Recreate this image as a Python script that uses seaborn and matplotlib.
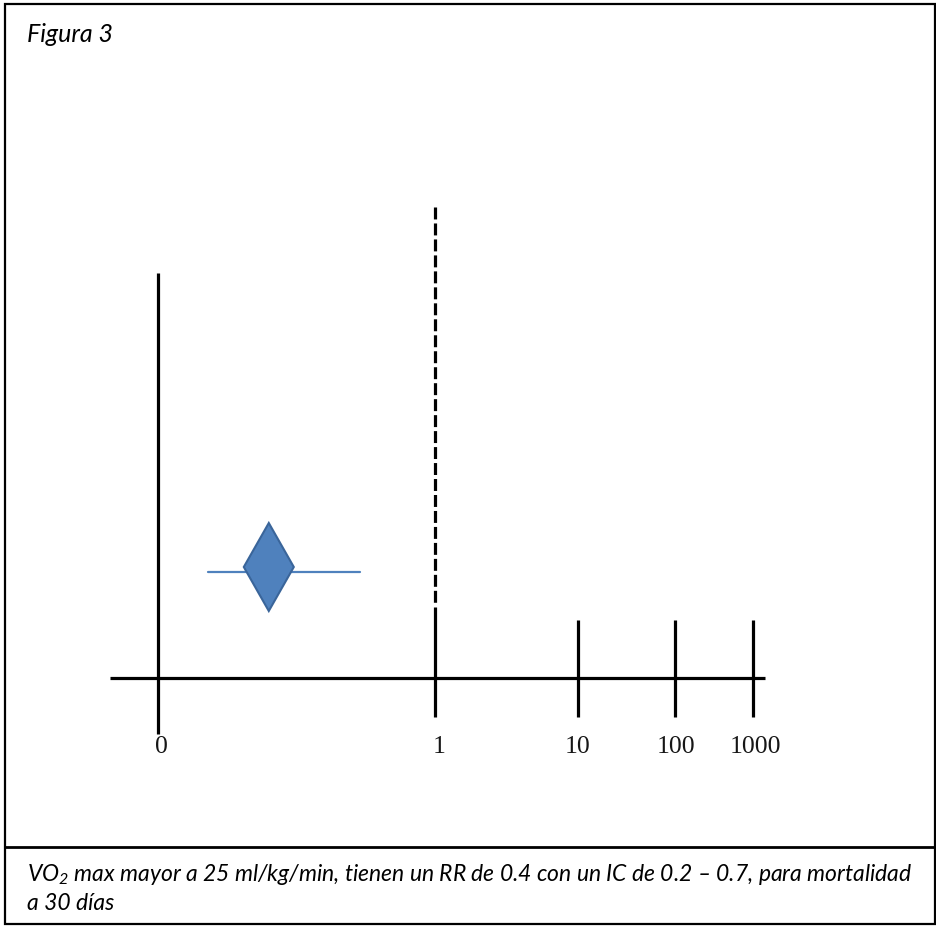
import numpy as np
import pandas as pd
import matplotlib
matplotlib.use("Agg")
import matplotlib.pyplot as plt
import seaborn as sns
from matplotlib.patches import Rectangle, Polygon
from matplotlib.lines import Line2D

# ---------------- data ----------------
tick_values = [0, 1, 10, 100, 1000]
tick_labels = ["0", "1", "10", "100", "1000"]
# spacing of the hand-drawn axis (units of the 0->1 distance)
tick_positions = [0.0, 1.0, 1.516, 1.866, 2.148]
rr_value = 0.4
ci_low = 0.18
ci_high = 0.73
title_text = "Figura 3"
caption_line1 = "VO$_2$ max mayor a 25 ml/kg/min, tienen un RR de 0.4 con un IC de 0.2 \u2013 0.7, para mortalidad"
caption_line2 = "a 30 días"

# ---------------- style ----------------
sns.set_theme(style="white")
plt.rcParams["font.family"] = ["Lato", "DejaVu Sans"]
plt.rcParams["mathtext.fontset"] = "custom"
plt.rcParams["mathtext.rm"] = "Lato:italic"
plt.rcParams["mathtext.it"] = "Lato:italic"
plt.rcParams["lines.scale_dashes"] = False

W, H = 936, 928
fig = plt.figure(figsize=(W / 100, H / 100), dpi=100)
fig.patch.set_facecolor("white")
ax = fig.add_axes([0, 0, 1, 1])
ax.set_facecolor("white")

xs = np.array([-10.0] + tick_values + [1e5])
ps = np.array([-10.0] + tick_positions + [5.0])
fwd = lambda x: np.interp(x, xs, ps)
inv = lambda p: np.interp(p, ps, xs)
ax.set_xscale("function", functions=(fwd, inv))

PX_PER_UNIT = 277.0
X0_PX = 158.0
def px2data(p):
    return float(inv((p - X0_PX) / PX_PER_UNIT))

ax.set_xlim(px2data(0), px2data(W))
ax.set_ylim(H, 0)
ax.axis("off")

LW = 2.3
# horizontal axis
ax.plot([px2data(110), px2data(765)], [679, 679], color="black", lw=LW, solid_capstyle="butt")
# vertical line at 0
ax.plot([tick_values[0]] * 2, [274, 735], color="black", lw=LW, solid_capstyle="butt")
# dashed reference line at 1
ax.plot([tick_values[1]] * 2, [208, 606], color="black", lw=LW, dashes=(8.6, 2.9), dash_capstyle="butt")
# ticks at 1, 10, 100, 1000
for v in tick_values[1:]:
    ax.plot([v, v], [608 if v == 1 else 621, 718], color="black", lw=LW, solid_capstyle="butt")
# tick labels
label_dx = {"0": 3, "1": 4, "10": 0, "100": 1, "1000": 2}
for v, lab in zip(tick_values, tick_labels):
    ax.text(px2data(X0_PX + fwd(v) * PX_PER_UNIT + label_dx[lab]), 747, lab, ha="center", va="center",
            fontsize=18.5, family=["Liberation Serif", "DejaVu Serif"], color="#161616")

# confidence interval line via seaborn
ci_df = pd.DataFrame({"x": [ci_low, ci_high], "y": [573, 573]})
sns.lineplot(data=ci_df, x="x", y="y", ax=ax, color="#4F81BD", lw=1.6, estimator=None, sort=False)
ax.set_xlabel("")
ax.set_ylabel("")
ax.axis("off")

# diamond at point estimate
half_w = 25 / PX_PER_UNIT
cy, half_h = 568, 44
diamond = Polygon([[rr_value, cy - half_h], [rr_value + half_w, cy], [rr_value, cy + half_h], [rr_value - half_w, cy]],
                  closed=True, facecolor="#4F81BD", edgecolor="#3A659A", lw=1.5, zorder=3)
ax.add_patch(diamond)

# borders
def fx(p):
    return p / W
def fy(p):
    return 1 - p / H
fig.add_artist(Rectangle((fx(5), fy(925)), fx(930), 920 / H, transform=fig.transFigure,
                         fill=False, edgecolor="black", lw=1.6))
fig.add_artist(Line2D([fx(5), fx(935)], [fy(848), fy(848)], transform=fig.transFigure, color="black", lw=2.0))

# texts
fig.text(fx(27), fy(35), title_text, fontsize=18, style="italic", ha="left", va="center", color="black")
fig.text(fx(27), fy(875), caption_line1, fontsize=16.5, style="italic", ha="left", va="center", color="black")
fig.text(fx(27), fy(904), caption_line2, fontsize=16.5, style="italic", ha="left", va="center", color="black")

fig.savefig("out.png", dpi=100, facecolor="white")
